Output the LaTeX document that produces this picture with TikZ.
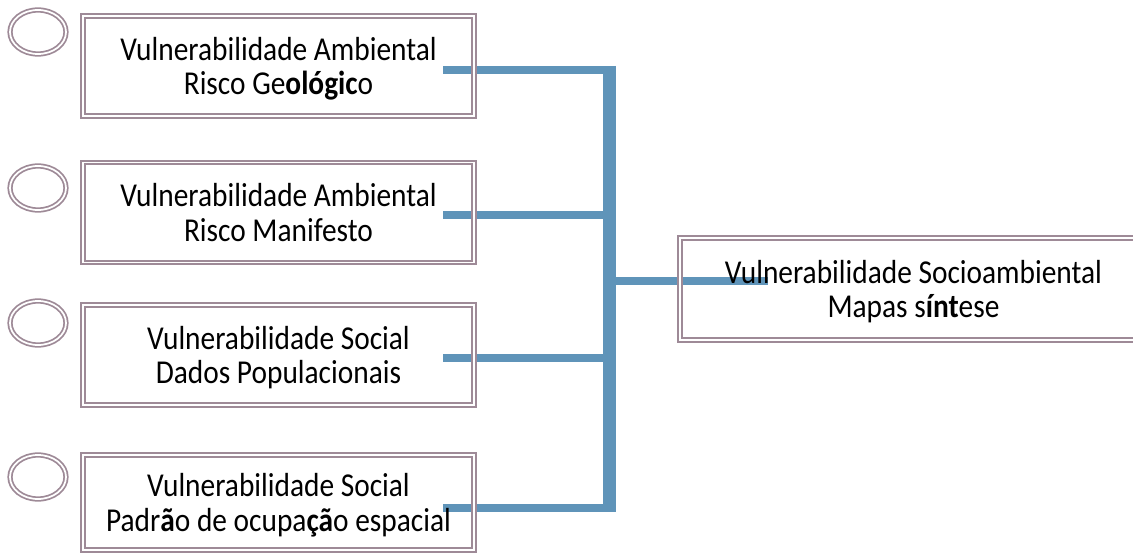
\documentclass[tikz,border=0pt]{standalone}
\usepackage{fontspec}
\setmainfont{Carlito}[FakeStretch=0.88]
\usepackage{tikz}
\usetikzlibrary{shapes.geometric}
\definecolor{linkBlue}{HTML}{5F94B9}
\definecolor{frameMauve}{HTML}{9E8A97}

\begin{document}
\begin{tikzpicture}[x=0.02cm, y=-0.02cm,
    framebox/.style={draw=frameMauve, double, line width=1.1pt, double distance=1.1pt,
        minimum width=7.82cm, minimum height=2cm, inner sep=0pt, align=center,
        text depth=-3pt, font=\fontsize{19}{19.5}\selectfont},
    knob/.style={ellipse, draw=frameMauve, double, line width=1pt, double distance=1pt,
        minimum width=1.12cm, minimum height=0.88cm, inner sep=0pt},
    busline/.style={draw=linkBlue, line width=4pt}]
            \useasboundingbox (0,0) rectangle (1133,554);
            % bus and stubs
            \coordinate (s1) at (443,70);
            \coordinate (s2) at (443,215);
            \coordinate (s3) at (443,358);
            \coordinate (s4) at (443,508);
            \coordinate (bustop) at (609.5,66);
            \coordinate (busbot) at (609.5,512);
            \coordinate (busmid) at (609.5,281);
            \coordinate (tip) at (768,281);
            \draw[busline] (s1) -- (s1 -| bustop);
            \draw[busline] (s2) -- (s2 -| bustop);
            \draw[busline] (s3) -- (s3 -| bustop);
            \draw[busline] (s4) -- (s4 -| bustop);
            \draw[busline, line width=7pt] (bustop) -- (busbot);
            \draw[busline] (busmid) -- (tip);
            % boxes
            \node[framebox] (geo) at (278.5,66) {Vulnerabilidade Ambiental\\Risco Ge{\bfseries ológic}o};
            \node[framebox] (manif) at (278.5,212.5) {Vulnerabilidade Ambiental\\Risco Manifesto};
            \node[framebox] (popul) at (278.5,355) {Vulnerabilidade Social\\Dados Populacionais};
            \node[framebox, minimum height=1.9cm] (ocup) at (278.5,502.5) {Vulnerabilidade Social\\Padr{\bfseries ã}o de ocupa{\bfseries çã}o espacial};
            \node[framebox, minimum width=9.34cm, minimum height=2.04cm] (sintese) at (913.5,289) {Vulnerabilidade Socioambiental\\Mapas s{\bfseries ínt}ese};
            % circles
            \node[knob] (k1) at (38,32) {};
            \node[knob] (k2) at (38,188) {};
            \node[knob] (k3) at (38,323) {};
            \node[knob] (k4) at (38,477) {};
        \end{tikzpicture}
\end{document}
